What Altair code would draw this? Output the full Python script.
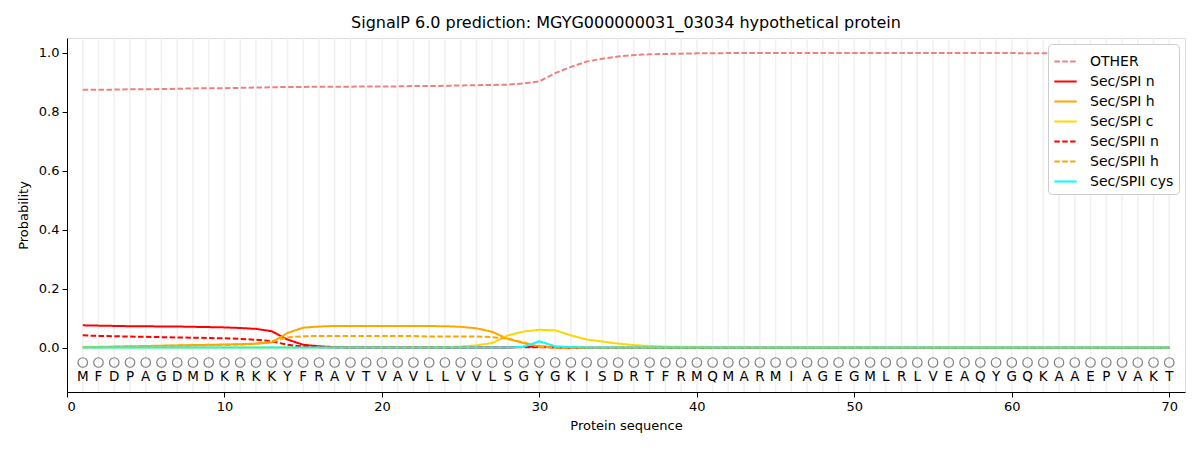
import altair as alt
import pandas as pd

sequence = list("MFDPAGDMDKRKKYFRAVTVAVLLVVLSGYGKISDRTFRMQMARMIAGEGMLRLVEAQYGQKAAEPVAKT")
positions = list(range(1, 71))

series_names = ["OTHER", "Sec/SPI n", "Sec/SPI h", "Sec/SPI c", "Sec/SPII n", "Sec/SPII h", "Sec/SPII cys"]
series_colors = ["#f08080", "#ff0000", "#ffa500", "#ffd700", "#ff0000", "#ffa500", "#00ffff"]
series_dashes = [[5.5, 2.4], [1, 0], [1, 0], [1, 0], [5.5, 2.4], [5.5, 2.4], [1, 0]]

other = [0.875, 0.875, 0.875, 0.876, 0.876, 0.877, 0.878, 0.879, 0.880, 0.880,
         0.881, 0.882, 0.883, 0.884, 0.884, 0.885, 0.885, 0.885, 0.886, 0.886,
         0.886, 0.887, 0.887, 0.888, 0.889, 0.890, 0.891, 0.892, 0.896, 0.903,
         0.931, 0.952, 0.970, 0.980, 0.987, 0.992, 0.995, 0.996, 0.997, 0.998,
         0.998, 0.999, 0.999, 0.999, 0.999, 0.999, 0.999, 0.999, 0.999, 0.999,
         0.999, 0.999, 0.999, 0.999, 0.999, 0.999, 0.999, 0.999, 0.999, 0.999,
         0.998, 0.998, 0.998, 0.998, 0.998, 0.998, 0.998, 0.998, 0.998, 0.998]
spi_n = [0.076, 0.075, 0.074, 0.073, 0.073, 0.072, 0.072, 0.071, 0.070, 0.069,
         0.067, 0.064, 0.056, 0.028, 0.010, 0.005, 0.002, 0.001, 0.001, 0.001,
         0.001, 0.001, 0.001, 0.001, 0.001, 0.001, 0.001, 0.001, 0.003, 0.004,
         0.002, 0.000, 0.000, 0.000, 0.000, 0.000, 0.000, 0.000, 0.000, 0.000,
         0.000, 0.000, 0.000, 0.000, 0.000, 0.000, 0.000, 0.000, 0.000, 0.000,
         0.000, 0.000, 0.000, 0.000, 0.000, 0.000, 0.000, 0.000, 0.000, 0.000,
         0.000, 0.000, 0.000, 0.000, 0.000, 0.000, 0.000, 0.000, 0.000, 0.000]
spi_h = [0.002, 0.003, 0.004, 0.005, 0.006, 0.007, 0.008, 0.009, 0.010, 0.011,
         0.012, 0.014, 0.018, 0.050, 0.068, 0.072, 0.074, 0.074, 0.074, 0.074,
         0.074, 0.074, 0.0735, 0.073, 0.071, 0.066, 0.054, 0.030, 0.016, 0.004,
         0.001, 0.000, 0.000, 0.000, 0.000, 0.000, 0.000, 0.000, 0.000, 0.000,
         0.000, 0.000, 0.000, 0.000, 0.000, 0.000, 0.000, 0.000, 0.000, 0.000,
         0.000, 0.000, 0.000, 0.000, 0.000, 0.000, 0.000, 0.000, 0.000, 0.000,
         0.000, 0.000, 0.000, 0.000, 0.000, 0.000, 0.000, 0.000, 0.000, 0.000]
spi_c = [0.001, 0.001, 0.001, 0.001, 0.001, 0.001, 0.001, 0.001, 0.001, 0.001,
         0.001, 0.001, 0.001, 0.001, 0.001, 0.001, 0.001, 0.001, 0.001, 0.001,
         0.001, 0.001, 0.001, 0.002, 0.004, 0.008, 0.016, 0.042, 0.055, 0.061,
         0.059, 0.042, 0.028, 0.021, 0.014, 0.009, 0.006, 0.004, 0.003, 0.002,
         0.001, 0.001, 0.001, 0.001, 0.001, 0.001, 0.001, 0.001, 0.001, 0.001,
         0.001, 0.001, 0.001, 0.001, 0.001, 0.001, 0.001, 0.001, 0.001, 0.001,
         0.001, 0.001, 0.001, 0.001, 0.001, 0.001, 0.001, 0.001, 0.001, 0.001]
spii_n = [0.042, 0.040, 0.039, 0.038, 0.037, 0.036, 0.035, 0.034, 0.033, 0.032,
          0.030, 0.027, 0.022, 0.010, 0.004, 0.002, 0.001, 0.001, 0.001, 0.001,
          0.001, 0.001, 0.001, 0.001, 0.001, 0.001, 0.001, 0.001, 0.002, 0.002,
          0.001, 0.000, 0.000, 0.000, 0.000, 0.000, 0.000, 0.000, 0.000, 0.000,
          0.000, 0.000, 0.000, 0.000, 0.000, 0.000, 0.000, 0.000, 0.000, 0.000,
          0.000, 0.000, 0.000, 0.000, 0.000, 0.000, 0.000, 0.000, 0.000, 0.000,
          0.000, 0.000, 0.000, 0.000, 0.000, 0.000, 0.000, 0.000, 0.000, 0.000]
spii_h = [0.001, 0.002, 0.003, 0.004, 0.005, 0.006, 0.007, 0.008, 0.009, 0.010,
          0.011, 0.013, 0.020, 0.035, 0.039, 0.040, 0.040, 0.040, 0.040, 0.040,
          0.040, 0.040, 0.038, 0.038, 0.038, 0.038, 0.036, 0.031, 0.018, 0.003,
          0.001, 0.000, 0.000, 0.000, 0.000, 0.000, 0.000, 0.000, 0.000, 0.000,
          0.000, 0.000, 0.000, 0.000, 0.000, 0.000, 0.000, 0.000, 0.000, 0.000,
          0.000, 0.000, 0.000, 0.000, 0.000, 0.000, 0.000, 0.000, 0.000, 0.000,
          0.000, 0.000, 0.000, 0.000, 0.000, 0.000, 0.000, 0.000, 0.000, 0.000]
spii_cys = [0.001, 0.001, 0.001, 0.001, 0.001, 0.001, 0.001, 0.001, 0.001, 0.001,
            0.001, 0.001, 0.001, 0.001, 0.001, 0.001, 0.001, 0.001, 0.001, 0.001,
            0.001, 0.001, 0.001, 0.001, 0.001, 0.001, 0.001, 0.001, 0.003, 0.022,
            0.005, 0.002, 0.001, 0.001, 0.001, 0.001, 0.001, 0.001, 0.001, 0.001,
            0.001, 0.001, 0.001, 0.001, 0.001, 0.001, 0.001, 0.001, 0.001, 0.001,
            0.001, 0.001, 0.001, 0.001, 0.001, 0.001, 0.001, 0.001, 0.001, 0.001,
            0.001, 0.001, 0.001, 0.001, 0.001, 0.001, 0.001, 0.001, 0.001, 0.001]

all_series = [other, spi_n, spi_h, spi_c, spii_n, spii_h, spii_cys]

rows = []
for k, (name, vals) in enumerate(zip(series_names, all_series)):
    for p, v in zip(positions, vals):
        rows.append({"pos": p, "prob": v, "series": name, "order": k})
lines_df = pd.DataFrame(rows)

seq_df = pd.DataFrame({"pos": positions, "aa": sequence,
                       "circ_y": [-0.05] * 70, "text_y": [-0.1] * 70})

FONT = "DejaVu Sans"
xscale = alt.Scale(domain=[0, 71], nice=False, zero=False)
yscale = alt.Scale(domain=[-0.15, 1.05], nice=False, zero=False)

xaxis = alt.Axis(values=[0, 10, 20, 30, 40, 50, 60, 70], title="Protein sequence",
                 grid=False, labelFontSize=13, titleFontSize=13, tickSize=5,
                 domainColor="black", tickColor="black", labelColor="black",
                 titleFontWeight="normal", labelPadding=3, titlePadding=6)
yaxis = alt.Axis(values=[0, 0.2, 0.4, 0.6, 0.8, 1.0], format=".1f", title="Probability",
                 grid=False, labelFontSize=13, titleFontSize=13, tickSize=5,
                 domainColor="black", tickColor="black", labelColor="black",
                 titleFontWeight="normal", labelPadding=3, titlePadding=8)

grid = alt.Chart(seq_df).mark_rule(color="#f0f0f0", strokeWidth=1.5).encode(
    x=alt.X("pos:Q", scale=xscale, axis=xaxis)
)

legend = alt.Legend(title=None, orient="top-right", offset=6, labelFontSize=14,
                    symbolType="stroke", symbolSize=500, symbolStrokeWidth=2,
                    fillColor="white", strokeColor="#cccccc", cornerRadius=4,
                    padding=5, rowPadding=0, labelFont=FONT, labelColor="black",
                    labelOffset=12, symbolOpacity=1)

lines = alt.Chart(lines_df).mark_line(strokeWidth=2).encode(
    x=alt.X("pos:Q", scale=xscale, axis=xaxis),
    y=alt.Y("prob:Q", scale=yscale, axis=yaxis),
    color=alt.Color("series:N", scale=alt.Scale(domain=series_names, range=series_colors),
                    sort=series_names, legend=legend),
    strokeDash=alt.StrokeDash("series:N", scale=alt.Scale(domain=series_names, range=series_dashes),
                              sort=series_names, legend=legend),
    order="order:Q",
    detail="series:N",
)

circles = alt.Chart(seq_df).mark_point(shape="circle", filled=False, color="#808080",
                                       size=90, strokeWidth=1.2, opacity=1).encode(
    x=alt.X("pos:Q", scale=xscale),
    y=alt.Y("circ_y:Q", scale=yscale),
)

letters = alt.Chart(seq_df).mark_text(fontSize=13.5, font=FONT, color="black",
                                      baseline="middle", align="center").encode(
    x=alt.X("pos:Q", scale=xscale),
    y=alt.Y("text_y:Q", scale=yscale),
    text="aa:N",
)

chart = alt.layer(grid, lines, circles, letters).properties(
    width=1118, height=354,
    title=alt.TitleParams("SignalP 6.0 prediction: MGYG000000031_03034 hypothetical protein",
                          fontSize=16, font=FONT, fontWeight="normal", color="black",
                          anchor="middle", offset=6),
    autosize=alt.AutoSizeParams(type="none"),
    padding={"left": 59, "top": 30, "right": 7, "bottom": 50},
).configure_view(stroke="black", strokeWidth=1).configure(font=FONT)

chart.save("out.html", embed_options={"renderer": "svg", "actions": False})
